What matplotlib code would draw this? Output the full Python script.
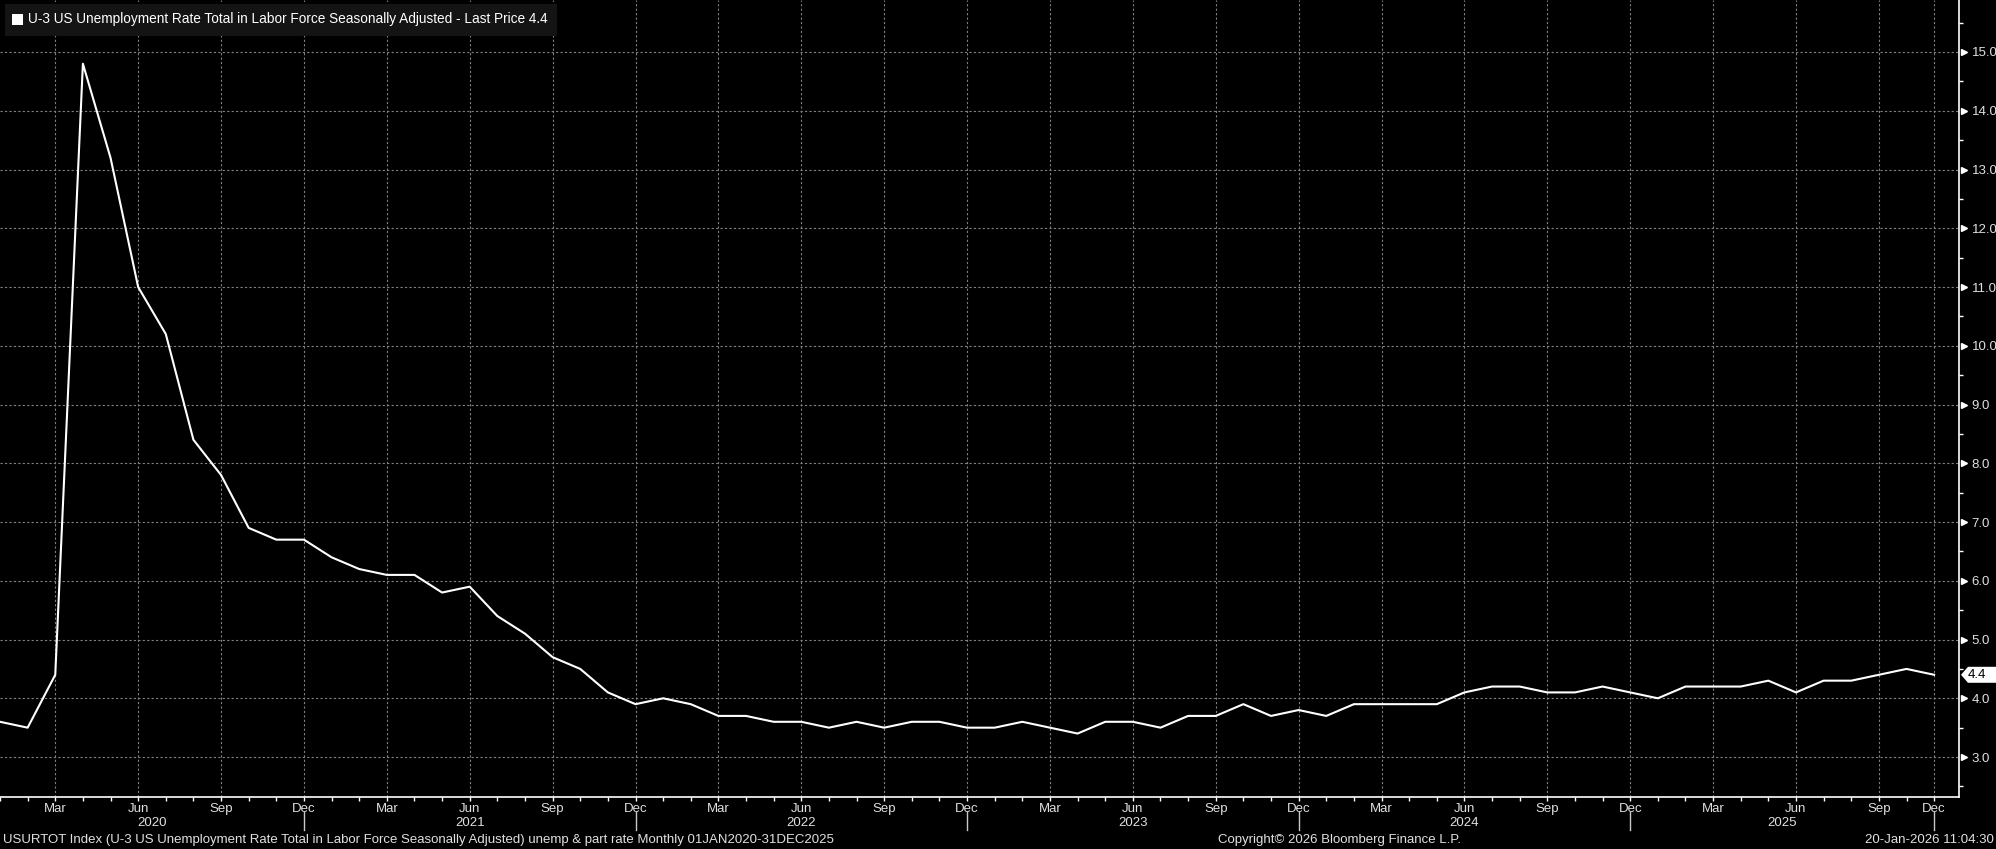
import matplotlib
matplotlib.use('Agg')
import matplotlib.pyplot as plt
from matplotlib.patches import Polygon, Rectangle
import numpy as np
import pandas as pd

# monthly obs Jan 2020 - Dec 2025, Oct 2025 was never published so it is skipped
periods = pd.period_range('2020-01', '2025-12', freq='M')
periods = periods[periods != pd.Period('2025-10', freq='M')]

unemp_2020 = [3.6, 3.5, 4.4, 14.8, 13.2, 11.0, 10.2, 8.4, 7.8, 6.9, 6.7, 6.7]
unemp_2021 = [6.4, 6.2, 6.1, 6.1, 5.8, 5.9, 5.4, 5.1, 4.7, 4.5, 4.1, 3.9]
unemp_2022 = [4.0, 3.9, 3.7, 3.7, 3.6, 3.6, 3.5, 3.6, 3.5, 3.6, 3.6, 3.5]
unemp_2023 = [3.5, 3.6, 3.5, 3.4, 3.6, 3.6, 3.5, 3.7, 3.7, 3.9, 3.7, 3.8]
unemp_2024 = [3.7, 3.9, 3.9, 3.9, 3.9, 4.1, 4.2, 4.2, 4.1, 4.1, 4.2, 4.1]
unemp_2025 = [4.0, 4.2, 4.2, 4.2, 4.3, 4.1, 4.3, 4.3, 4.4, 4.5, 4.4]
unemp = unemp_2020 + unemp_2021 + unemp_2022 + unemp_2023 + unemp_2024 + unemp_2025

y_ticks = [3, 4, 5, 6, 7, 8, 9, 10, 11, 12, 13, 14, 15]
quarter_months = [3, 6, 9, 12]

title_text = 'U-3 US Unemployment Rate Total in Labor Force Seasonally Adjusted - Last Price 4.4'
footer_left = ('USURTOT Index (U-3 US Unemployment Rate Total in Labor Force Seasonally Adjusted) '
               'unemp & part rate Monthly 01JAN2020-31DEC2025')
footer_mid = 'Copyright\u00a9 2026 Bloomberg Finance L.P.'
footer_right = '20-Jan-2026 11:04:30'

plt.rcParams['font.family'] = ['Liberation Sans', 'DejaVu Sans']

W, H = 1996, 849
fig = plt.figure(figsize=(W / 100, H / 100), dpi=100, facecolor='black')
ax = fig.add_axes([0, 52 / H, 1959 / W, 797 / H], facecolor='black')

x = np.arange(len(unemp))
ax.plot(x, unemp, color='white', lw=1.5, zorder=3)
ax.set_xlim(0, 70.9)
ax.set_ylim(2.32, 15.885)

for s in ['top', 'left']:
    ax.spines[s].set_visible(False)
for s in ['right', 'bottom']:
    ax.spines[s].set_color('white')
    ax.spines[s].set_linewidth(1.2)

# x axis: month ticks, quarter labels
q_idx = [i for i, p in enumerate(periods) if p.month in quarter_months]
ax.set_xticks(q_idx)
ax.set_xticklabels([periods[i].strftime('%b') for i in q_idx])
ax.set_xticks(x, minor=True)
ax.tick_params(axis='x', which='both', colors='white', length=3, width=1,
               direction='out', labelcolor='#e0e0e0', labelsize=9.5, pad=1)

# y axis on the right
ax.yaxis.tick_right()
ax.set_yticks(y_ticks)
ax.set_yticklabels(['%.1f' % v for v in y_ticks])
ax.set_yticks(np.arange(2.5, 16, 1.0), minor=True)
ax.tick_params(axis='y', which='major', length=0, pad=9, labelcolor='#e0e0e0', labelsize=9.5)
ax.tick_params(axis='y', which='minor', length=3, width=1, colors='white', direction='out')
ax.plot(np.full(len(y_ticks), 1.0025), y_ticks, marker='>', ms=5, color='white', ls='none',
        transform=ax.get_yaxis_transform(), clip_on=False)

# dotted grid only at quarter labels and whole numbers
ax.grid(False, which='both')
for v in q_idx:
    ax.axvline(v, color='#808080', ls=(0, (2, 2)), lw=0.8, zorder=1)
for t in y_ticks:
    ax.axhline(t, color='#808080', ls=(0, (2, 2)), lw=0.8, zorder=1)

# year separators and year labels
xt = ax.get_xaxis_transform()
axh = 797.0
prev = 0
for yr in sorted(set(p.year for p in periods)):
    idx = [i for i, p in enumerate(periods) if p.year == yr]
    last = idx[-1]
    ax.plot([last, last], [-15 / axh, -33 / axh], color='#c8c8c8', lw=1,
            transform=xt, clip_on=False)
    ax.text((prev + last) / 2, -26 / axh, str(yr), transform=xt, ha='center', va='center',
            color='#e0e0e0', fontsize=9.5)
    prev = last

# last price tag
fig.canvas.draw()
y0 = ax.transData.transform((0, unemp[-1]))[1]
x0 = ax.transAxes.transform((1, 0))[0]
tag = [(x0 + 2, y0), (x0 + 9, y0 + 8), (W, y0 + 8), (W, y0 - 8), (x0 + 9, y0 - 8)]
fig.add_artist(Polygon([(a / W, b / H) for a, b in tag], closed=True,
                       transform=fig.transFigure, fc='white', ec='none'))
fig.text((x0 + 9) / W, y0 / H, '%.1f' % unemp[-1], color='black', va='center', ha='left',
         fontsize=9.5)

# legend box
fig.add_artist(Rectangle((5 / W, 1 - 36 / H), 552 / W, 32 / H, transform=fig.transFigure,
                         fc='#141414', ec='none'))
fig.add_artist(Rectangle((12 / W, 1 - 25 / H), 11 / W, 11 / H, transform=fig.transFigure,
                         fc='white', ec='none'))
fig.text(28 / W, 1 - 19 / H, title_text, color='white', va='center', ha='left', fontsize=9.8)

# footer
fy = 9 / H
fig.text(3 / W, fy, footer_left, color='#e0e0e0', va='center', ha='left', fontsize=9.5)
fig.text(1340 / W, fy, footer_mid, color='#e0e0e0', va='center', ha='center', fontsize=9.5)
fig.text(1994 / W, fy, footer_right, color='#e0e0e0', va='center', ha='right', fontsize=9.5)

fig.savefig('out.png', dpi=100, facecolor='black')
